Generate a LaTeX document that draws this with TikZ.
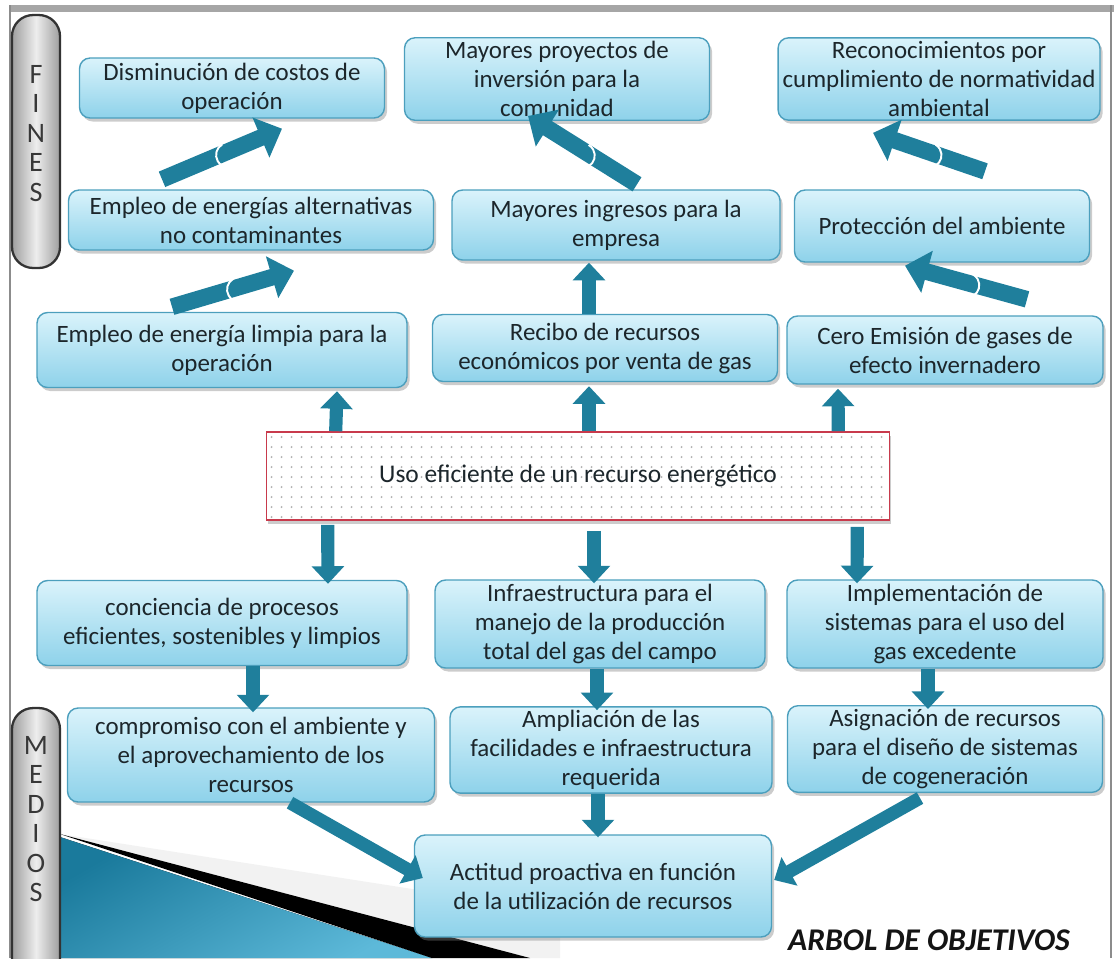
\documentclass[tikz,border=0pt]{standalone}
\usepackage{fontspec}
\setmainfont{Carlito}
\usetikzlibrary{arrows.meta,shadows}

\definecolor{arrowteal}{HTML}{1F7F9C}
\definecolor{boxtop}{HTML}{DAF3FB}
\definecolor{boxbottom}{HTML}{8ED2EA}
\definecolor{boxline}{HTML}{4C9FBD}
\definecolor{textdark}{HTML}{1C262B}
\definecolor{corered}{HTML}{C83A4C}
\definecolor{decoblue}{HTML}{1A7A9C}
\definecolor{decolight}{HTML}{5DB9D9}

\begin{document}
\begin{tikzpicture}[
    x=0.02cm, y=-0.02cm, % one unit = one pixel of the sketch, y down
    goal/.style={draw=boxline, line width=0.8pt, rounded corners=6pt,
        top color=boxtop, bottom color=boxbottom,
        drop shadow={shadow xshift=1.5pt, shadow yshift=-2pt, opacity=0.4},
        align=center, text=textdark, inner sep=2pt,
        font=\fontsize{14.2}{16.5}\selectfont}, % Objective boxes
    core/.style={draw=corered, line width=1pt, fill=white,
        drop shadow={shadow xshift=1pt, shadow yshift=-2.5pt, opacity=0.4},
        text=textdark, font=\fontsize{14.5}{16.5}\selectfont,
        path picture={
            \foreach \i in {0,...,62}
                \foreach \j in {0,...,9}
                    \fill[black!30] ([shift={(5+10*\i,5+10*\j)}]path picture bounding box.north west) circle (0.6pt);
        }}, % Central problem box
    shaft/.style={draw=arrowteal, line width=7.5pt, -{Triangle[length=10pt,width=18pt]}},
    slant/.style={draw=arrowteal, line width=9.5pt, -{Triangle[length=13pt,width=24pt]}},
    notch/.style={draw=white, line width=1.1pt},
    pill/.style={draw=black!80, line width=1.3pt, rounded corners=12pt,
        left color=black!38, right color=black!38, middle color=black!7},
    sidetext/.style={align=center, text=black!78, font=\fontsize{16}{16.8}\selectfont}
]

\useasboundingbox (0,0) rectangle (1114,958);

% Frame
\fill[black!35] (10,5) rectangle (1114,12);
\draw[black!45, line width=0.8pt] (10,5) -- (10,958);
\draw[black!45, line width=0.8pt] (1111,5) -- (1111,958);

% Corner decoration
\fill[black!5] (60,834) -- (560,912) -- (560,958) -- (530,958) -- cycle;
\fill[top color=decoblue, bottom color=decolight, shading angle=30] (60,837) -- (432,958) -- (60,958) -- cycle;
\fill[black] (60,834) -- (530,958) -- (432,958) -- cycle;

% Side labels
\node[pill, minimum width=0.96cm, minimum height=5.06cm] (fines) at (36,141.5) {};
\node[sidetext] (finestxt) at ([shift={(0,-8)}]fines) {F\\I\\N\\E\\S};
\node[pill, minimum width=0.96cm, minimum height=5.84cm] (medios) at (36,854) {};
\node[sidetext] (mediostxt) at ([shift={(0,-35)}]medios) {M\\E\\D\\I\\O\\S};

% Ends (fines)
\node[goal, minimum width=6.1cm, minimum height=1.2cm] (dis) at (232,88) {Disminución de costos de\\operación};
\node[goal, minimum width=6.1cm, minimum height=1.56cm] (inv) at (557,79) {Mayores proyectos de\\inversión para la\\comunidad};
\node[goal, minimum width=6.44cm, minimum height=1.56cm] (rec) at (939,79) {Reconocimientos por\\cumplimiento de normatividad\\ambiental};
\node[goal, minimum width=7.3cm, minimum height=1.2cm] (alt) at (251,220) {Empleo de energías alternativas\\no contaminantes};
\node[goal, minimum width=6.56cm, minimum height=1.4cm] (ing) at (616,225) {Mayores ingresos para la\\empresa};
\node[goal, minimum width=5.9cm, minimum height=1.44cm] (pro) at (942,226) {Protección del ambiente};
\node[goal, minimum width=7.4cm, minimum height=1.5cm] (lim) at (222,350) {Empleo de energía limpia para la\\operación};
\node[goal, minimum width=6.9cm, minimum height=1.34cm] (rbo) at (605,348) {Recibo de recursos\\económicos por venta de gas};
\node[goal, minimum width=6.32cm, minimum height=1.36cm] (cer) at (945,350) {Cero Emisión de gases de\\efecto invernadero};

% Central objective
\node[core, minimum width=12.46cm, minimum height=1.76cm] (use) at (578,476) {Uso eficiente de un recurso energético};

% Means (medios)
\node[goal, minimum width=7.4cm, minimum height=1.7cm] (con) at (222,623) {conciencia de procesos\\eficientes, sostenibles y limpios};
\node[goal, minimum width=6.6cm, minimum height=1.76cm] (inf) at (600,624) {Infraestructura para el\\manejo de la producción\\total del gas del campo};
\node[goal, minimum width=6.32cm, minimum height=1.76cm] (imp) at (945,624) {Implementación de\\sistemas para el uso del\\gas excedente};
\node[goal, minimum width=7.34cm, minimum height=1.88cm] (com) at (251,755) {compromiso con el ambiente y\\el aprovechamiento de los\\recursos};
\node[goal, minimum width=6.44cm, minimum height=1.68cm] (amp) at (611,750) {Ampliación de las\\facilidades e infraestructura\\requerida};
\node[goal, minimum width=6.3cm, minimum height=1.64cm] (asi) at (945,749) {Asignación de recursos\\para el diseño de sistemas\\de cogeneración};
\node[goal, minimum width=7.14cm, minimum height=2.04cm] (act) at (593,886) {Actitud proactiva en función\\de la utilización de recursos};

% Title
\node[font=\fontsize{18}{18}\selectfont\bfseries\itshape, text=black!92] (title) at (929,940) {ARBOL DE OBJETIVOS};

% Slanted arrows between the ends
\draw[slant] ([shift={(-50,-5)}]lim.north) -- coordinate[pos=0.48] (k1) ([shift={(43,20)}]alt.south);
\draw[slant] ([shift={(-89,-10)}]alt.north) -- coordinate[pos=0.48] (k2) ([shift={(50,10)}]dis.south);
\draw[slant] ([shift={(21,-5)}]ing.north) -- coordinate[pos=0.42] (k3) ([shift={(-29,-5)}]inv.south);
\draw[slant] ([shift={(43,-18)}]pro.north) -- coordinate[pos=0.42] (k4) ([shift={(-66,12)}]rec.south);
\draw[slant] ([shift={(82,-16)}]cer.north) -- coordinate[pos=0.42] (k5) ([shift={(-37,3)}]pro.south);

% Small notches on the slanted arrows
\foreach \k in {k1,k2}
    \draw[notch] ([xshift=5pt]\k) ++(120:7pt) arc[start angle=120, end angle=240, radius=7pt];
\foreach \k in {k3,k4,k5}
    \draw[notch] ([xshift=-5pt]\k) ++(-60:7pt) arc[start angle=-60, end angle=60, radius=7pt];

% Vertical arrows up from the centre
\draw[shaft] ([shift={(70,0)}]use.north west) -- ([shift={(115,3)}]lim.south);
\draw[shaft] ([shift={(11,0)}]use.north) -- ([shift={(-16,4)}]rbo.south);
\draw[shaft] ([shift={(-52,0)}]use.north east) -- ([shift={(-107,4)}]cer.south);
\draw[shaft] ([shift={(-16,0)}]rbo.north) -- ([shift={(-27,2)}]ing.south);

% Vertical arrows down from the centre
\draw[shaft] ([shift={(62,4)}]use.south west) -- ([shift={(106,4)}]con.north);
\draw[shaft] ([shift={(16,10)}]use.south) -- ([shift={(-6,4)}]inf.north);
\draw[shaft] ([shift={(-33,6)}]use.south east) -- ([shift={(-88,4)}]imp.north);
\draw[shaft] ([shift={(31,0)}]con.south) -- ([shift={(2,5)}]com.north);
\draw[shaft] ([shift={(-3,0)}]inf.south) -- ([shift={(-14,4)}]amp.north);
\draw[shaft] ([shift={(-17,0)}]imp.south) -- ([shift={(-17,4)}]asi.north);
\draw[shaft] ([shift={(-13,0)}]amp.south) -- ([shift={(5,3)}]act.north);

% Diagonal arrows into the last box
\draw[shaft] ([shift={(39,0)}]com.south) -- ([shift={(9,-8)}]act.west);
\draw[shaft] ([shift={(-25,5)}]asi.south) -- ([shift={(2,-6)}]act.east);

\end{tikzpicture}
\end{document}
